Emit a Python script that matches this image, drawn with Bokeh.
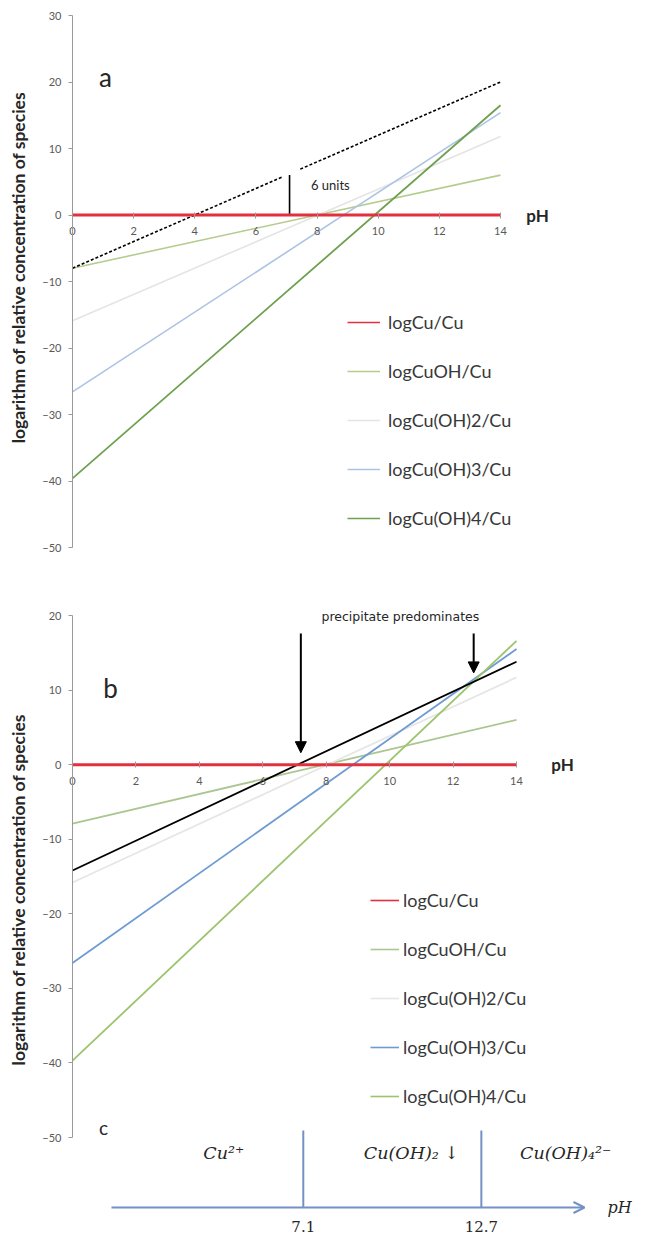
import math
from bokeh.plotting import figure
from bokeh.models import (Range1d, LinearAxis, FixedTicker, Legend, LegendItem, Label,
                          Arrow, NormalHead, OpenHead, ColumnDataSource, Grid)
from bokeh.layouts import column
from bokeh.embed import file_html
from bokeh.resources import INLINE
from bokeh.core.properties import value

nan = float("nan")

# ---------------- data ----------------
ph_ends = [0, 14]
species = ["logCu/Cu", "logCuOH/Cu", "logCu(OH)2/Cu", "logCu(OH)3/Cu", "logCu(OH)4/Cu"]

# panel a: value at pH 0 and pH 14
a_cu = [0.0, 0.0]
a_cuoh = [-8.0, 6.0]
a_cuoh2 = [-15.9, 11.8]
a_cuoh3 = [-26.6, 15.4]
a_cuoh4 = [-39.6, 16.5]
a_dash_ph = [0, 6.85, nan, 7.45, 14]
a_dash_val = [-8.0, 5.7, nan, 6.9, 20.0]
a_bar_ph = [7.1, 7.1]
a_bar_val = [0, 6]
a_yticks = [30, 20, 10, 0, -10, -20, -30, -40, -50]

# panel b
b_cu = [0.0, 0.0]
b_cuoh = [-7.9, 6.0]
b_cuoh2 = [-15.8, 11.7]
b_cuoh3 = [-26.6, 15.5]
b_cuoh4 = [-39.7, 16.6]
b_precip = [-14.2, 13.8]
b_arrow_ph = [7.2, 12.65]
b_arrow_from = [17.6, 17.6]
b_arrow_to = [1.6, 12.3]
b_yticks = [20, 10, 0, -10, -20, -30, -40, -50]

x_ticks = [0, 2, 4, 6, 8, 10, 12, 14]

# panel c
c_bounds = [7.1, 12.7]
c_bound_labels = ["7.1", "12.7"]
c_species = ["Cu²⁺", "Cu(OH)₂ ↓", "Cu(OH)₄²⁻"]
c_species_ph = [4.6, 10.5, 15.35]

a_series = [a_cu, a_cuoh, a_cuoh2, a_cuoh3, a_cuoh4]
b_series = [b_cu, b_cuoh, b_cuoh2, b_cuoh3, b_cuoh4]
a_colors = ["#e2303e", "#b4cd8e", "#e4e4e4", "#adc3e4", "#6ea04e"]
b_colors = ["#e2303e", "#abc690", "#e6e6e6", "#6e9bd2", "#9cc46c"]
a_widths = [3, 1.6, 1.6, 1.6, 1.8]

W = 648
LEFT = 72
FONT = "Lato"
TICK_COLOR = "#595959"
AXIS_COLOR = "#9a9a9a"


def base_fig(height, xr, yr):
    p = figure(width=W, height=height, x_range=xr, y_range=yr,
               output_backend="svg", toolbar_location=None,
               x_axis_location=None, y_axis_location=None,
               min_border_left=0, min_border_right=0,
               min_border_top=0, min_border_bottom=0)
    p.outline_line_color = None
    p.background_fill_color = "white"
    p.border_fill_color = "white"
    for g in list(p.center):
        if isinstance(g, Grid):
            g.visible = False
    return p


def add_axes(p, yticks, ybounds):
    ya = LinearAxis(fixed_location=0, ticker=FixedTicker(ticks=yticks), bounds=ybounds)
    ya.axis_line_color = AXIS_COLOR
    ya.major_tick_line_color = AXIS_COLOR
    ya.major_tick_out = 4
    ya.major_tick_in = 0
    ya.minor_tick_line_color = None
    ya.major_label_text_font = FONT
    ya.major_label_text_font_size = "11px"
    ya.major_label_text_color = TICK_COLOR
    ya.major_label_standoff = 7
    p.add_layout(ya, "left")
    xa = LinearAxis(fixed_location=0, ticker=FixedTicker(ticks=x_ticks), bounds=(0, 14))
    xa.axis_line_color = None
    xa.major_tick_line_color = AXIS_COLOR
    xa.major_tick_in = 3
    xa.major_tick_out = 3
    xa.minor_tick_line_color = None
    xa.major_label_text_font = FONT
    xa.major_label_text_font_size = "11px"
    xa.major_label_text_color = TICK_COLOR
    xa.major_label_standoff = 9
    p.add_layout(xa, "below")


def legend_proxies(p, colors):
    # thin line samples for the legend (the chart lines themselves are drawn separately)
    return [p.line(x=[nan, nan], y=[nan, nan], line_color=c, line_width=1.6) for c in colors]


# ---------------- panel a ----------------
ax_px = 428 / 14.0
ay_px = 532 / 80.0
HA = 585
fa = base_fig(HA, Range1d(-LEFT / ax_px, (W - LEFT) / ax_px),
              Range1d(-50 - (HA - 547) / ay_px, 30 + 15 / ay_px))
add_axes(fa, a_yticks, (-50, 30))

for i, (vals, col) in enumerate(zip(a_series, a_colors)):
    if i == 0:
        continue
    fa.line(ph_ends, vals, line_color=col, line_width=a_widths[i])
fa.line(a_dash_ph, a_dash_val, line_color="black", line_width=1.6, line_dash="3 2")
fa.line(a_bar_ph, a_bar_val, line_color="black", line_width=1.6)
fa.line(ph_ends, a_cu, line_color=a_colors[0], line_width=3)
ra = legend_proxies(fa, a_colors)

leg_a = Legend(items=[LegendItem(label=s, renderers=[r]) for s, r in zip(species, ra)],
               location=(347, HA - 529), glyph_width=33, glyph_height=20, label_height=20,
               spacing=27, padding=0, margin=0, border_line_color=None,
               background_fill_alpha=0, label_text_font=FONT, label_text_font_size="18px",
               label_text_color="#383838", label_standoff=8)
fa.add_layout(leg_a)

fa.add_layout(Label(x=(18 - LEFT) / ax_px, y=30 - (267 - 15) / ay_px,
                    text="logarithm of relative concentration of species", angle=math.pi / 2,
                    text_align="center", text_baseline="middle", text_font=FONT,
                    text_font_style="bold", text_font_size="17.5px", text_color="#262626"))
fa.add_layout(Label(x=(537 - LEFT) / ax_px, y=0, text="pH", text_align="center",
                    text_baseline="middle", text_font=FONT, text_font_style="bold",
                    text_font_size="17px", text_color="#262626"))
fa.add_layout(Label(x=(105 - LEFT) / ax_px, y=30 - (76 - 15) / ay_px, text="a",
                    text_align="center", text_baseline="middle", text_font=FONT,
                    text_font_size="26px", text_color="#262626"))
fa.add_layout(Label(x=7.8, y=4.5, text="6 units", text_align="left",
                    text_baseline="middle", text_font=FONT, text_font_size="13px",
                    text_color="#262626"))

# ---------------- panels b + c ----------------
bx_px = 444 / 14.0
by_px = 522 / 70.0
HB = 1236 - HA
b_top = 615 - HA
fb = base_fig(HB, Range1d(-LEFT / bx_px, (W - LEFT) / bx_px),
              Range1d(-50 - (1236 - 1137) / by_px, 20 + b_top / by_px))
add_axes(fb, b_yticks, (-50, 20))

for i, (vals, col) in enumerate(zip(b_series, b_colors)):
    if i == 0:
        continue
    fb.line(ph_ends, vals, line_color=col, line_width=1.8)
fb.line(ph_ends, b_precip, line_color="black", line_width=1.8)
fb.line(ph_ends, b_cu, line_color=b_colors[0], line_width=3)
rb = legend_proxies(fb, b_colors)

arr_src = ColumnDataSource(dict(x=b_arrow_ph, y0=b_arrow_from, y1=b_arrow_to))
fb.add_layout(Arrow(end=NormalHead(size=11, fill_color="black", line_color="black"),
                    x_start="x", y_start="y0", x_end="x", y_end="y1", source=arr_src,
                    line_color="black", line_width=2))
fb.add_layout(Label(x=10.4, y=19.8, text="precipitate  predominates", text_align="center",
                    text_baseline="middle", text_font="DejaVu Sans", text_font_size="12.5px",
                    text_color="#262626"))

leg_b = Legend(items=[LegendItem(label=s, renderers=[r]) for s, r in zip(species, rb)],
               location=(370, 1236 - 1107), glyph_width=29, glyph_height=20, label_height=20,
               spacing=27, padding=0, margin=0, border_line_color=None,
               background_fill_alpha=0, label_text_font=FONT, label_text_font_size="18px",
               label_text_color="#383838", label_standoff=4)
fb.add_layout(leg_b)

fb.add_layout(Label(x=(18 - LEFT) / bx_px, y=20 - (887 - 615) / by_px,
                    text="logarithm of  relative concentration of species", angle=math.pi / 2,
                    text_align="center", text_baseline="middle", text_font=FONT,
                    text_font_style="bold", text_font_size="17.5px", text_color="#262626"))
fb.add_layout(Label(x=(562 - LEFT) / bx_px, y=0, text="pH", text_align="center",
                    text_baseline="middle", text_font=FONT, text_font_style="bold",
                    text_font_size="17px", text_color="#262626"))
fb.add_layout(Label(x=(110 - LEFT) / bx_px, y=20 - (687 - 615) / by_px, text="b",
                    text_align="center", text_baseline="middle", text_font=FONT,
                    text_font_size="26px", text_color="#262626"))
fb.add_layout(Label(x=(103 - LEFT) / bx_px, y=20 - (1127 - 615) / by_px, text="c",
                    text_align="center", text_baseline="middle", text_font=FONT,
                    text_font_size="19px", text_color="#262626"))

# panel c on its own ranges
cx_px = 31.8
c0 = 77
fb.extra_x_ranges = {"c": Range1d(-c0 / cx_px, (W - c0) / cx_px)}
fb.extra_y_ranges = {"c": Range1d(0, HB)}
C_COL = "#7391c4"
axis_y = 1236 - 1207
fb.add_layout(Arrow(end=OpenHead(size=11, line_color=C_COL, line_width=2),
                    x_start=(111 - c0) / cx_px, y_start=axis_y, x_end=(584 - c0) / cx_px,
                    y_end=axis_y, x_range_name="c", y_range_name="c",
                    line_color=C_COL, line_width=2))
fb.segment(x0=c_bounds, y0=[axis_y] * len(c_bounds), x1=c_bounds,
           y1=[1236 - 1130] * len(c_bounds), line_color=C_COL, line_width=2,
           x_range_name="c", y_range_name="c")
fb.text(x=c_bounds, y=[1236 - 1226] * len(c_bounds), text=c_bound_labels,
        text_align="center", text_baseline="middle", text_font=value("DejaVu Serif"),
        text_font_size="15px", text_color="#262626", x_range_name="c", y_range_name="c")
fb.text(x=c_species_ph, y=[1236 - 1152] * len(c_species_ph), text=c_species,
        text_align="center", text_baseline="middle", text_font=value("DejaVu Serif"),
        text_font_style="italic", text_font_size="17.5px", text_color="#262626",
        x_range_name="c", y_range_name="c")
fb.text(x=[(607 - c0) / cx_px], y=[axis_y], text=["pH"], text_align="left",
        text_baseline="middle", text_font=value("DejaVu Serif"), text_font_style="italic",
        text_font_size="16px", text_color="#262626", x_range_name="c", y_range_name="c")

layout = column(fa, fb, spacing=0)
open("out.html", "w").write(file_html(layout, INLINE))
